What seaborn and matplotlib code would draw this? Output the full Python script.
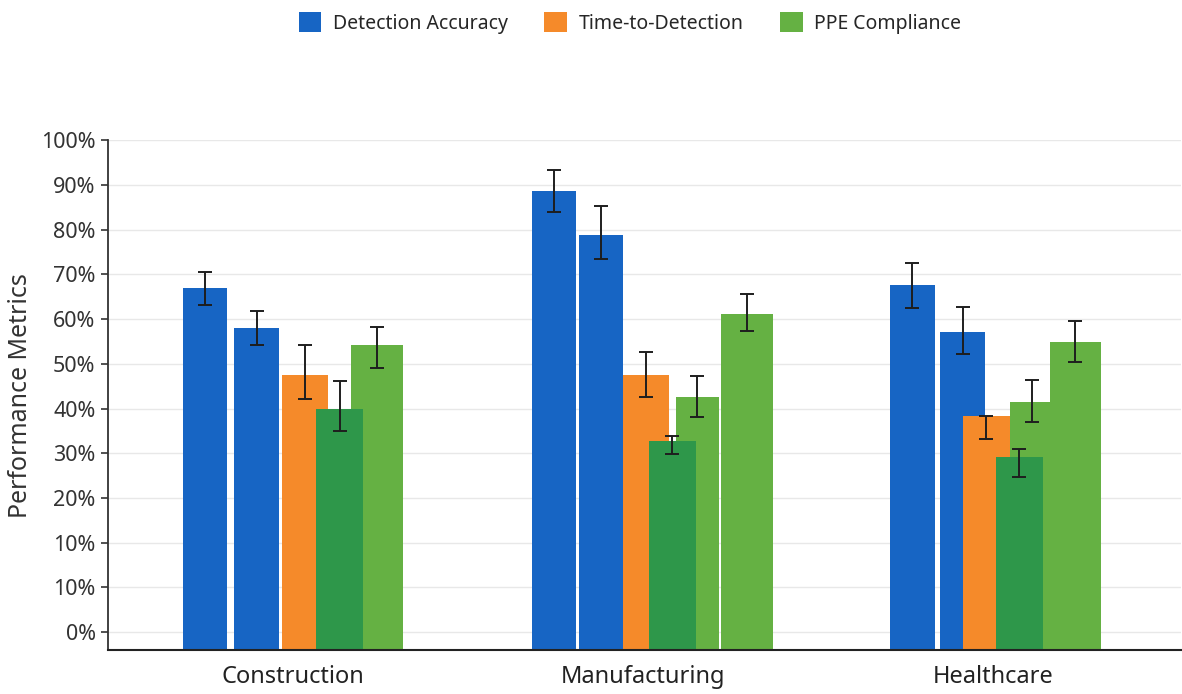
"""Grouped bar chart of safety-monitoring performance metrics by sector."""

import numpy as np
import pandas as pd
import matplotlib.pyplot as plt
from matplotlib.patches import Patch
import seaborn as sns

categories = ['Construction', 'Manufacturing', 'Healthcare']
series_names = ['Detection Accuracy', 'Time-to-Detection', 'PPE Compliance']
tick_labels = ['0%', '10%', '10%', '20%', '30%', '40%', '50%',
               '60%', '70%', '80%', '90%', '100%']

# bar tops and error-bar ends (percent, as read against the tick labels)
accuracy_a = [67.0, 88.7, 67.6]
accuracy_a_lo = [63.2, 84.0, 62.4]
accuracy_a_hi = [70.6, 93.4, 72.5]

accuracy_b = [58.1, 78.9, 57.2]
accuracy_b_lo = [54.1, 73.4, 52.3]
accuracy_b_hi = [61.7, 85.3, 62.6]

time_detect = [47.4, 47.4, 38.4]
time_detect_lo = [42.2, 42.6, 33.2]
time_detect_hi = [54.2, 52.6, 38.4]

ppe_dark = [39.9, 32.7, 29.1]
ppe_dark_lo = [34.9, 29.8, 24.6]
ppe_dark_hi = [46.1, 33.9, 30.9]

ppe_mid = [np.nan, 42.5, 41.5]
ppe_mid_lo = [np.nan, 38.1, 37.0]
ppe_mid_hi = [np.nan, 47.2, 46.3]

ppe_tall = [54.3, 61.1, 54.9]
ppe_tall_lo = [49.0, 57.3, 50.4]
ppe_tall_hi = [58.2, 65.7, 59.6]

BLUE, ORANGE, DARK_GREEN, LIGHT_GREEN = '#1765c4', '#f58a2a', '#2e974a', '#65b143'


def to_axis(v):
    """Map a labelled percent onto the axis (the 10% label appears twice)."""
    return np.asarray(v, dtype=float) / 10 + 1.4


# layout: slot -> (values, lo, hi, offsets per group, width, colour), in drawing order
slots = {
    'acc_a': (accuracy_a, accuracy_a_lo, accuracy_a_hi, [-0.251, -0.255, -0.231], 0.127, BLUE),
    'acc_b': (accuracy_b, accuracy_b_lo, accuracy_b_hi, [-0.103, -0.12, -0.087], 0.128, BLUE),
    'ppe_tall': (ppe_tall, ppe_tall_lo, ppe_tall_hi, [0.240, 0.297, 0.235], 0.147, LIGHT_GREEN),
    'ppe_mid': (ppe_mid, ppe_mid_lo, ppe_mid_hi, [0.0, 0.155, 0.110], 0.122, LIGHT_GREEN),
    'time': (time_detect, time_detect_lo, time_detect_hi, [0.034, 0.009, -0.019], 0.132, ORANGE),
    'ppe_dark': (ppe_dark, ppe_dark_lo, ppe_dark_hi, [0.134, 0.083, 0.074], 0.134, DARK_GREEN),
}

rows = []
for slot, (vals, lo, hi, offs, w, c) in slots.items():
    for i, _ in enumerate(categories):
        if np.isnan(vals[i]):
            continue
        rows.append({'slot': slot, 'x': i + offs[i], 'height': float(to_axis(vals[i])),
                     'lo': float(to_axis(lo[i])), 'hi': float(to_axis(hi[i]))})
df = pd.DataFrame(rows)

sns.set_style('white')
plt.rcParams['font.family'] = ['Noto Sans', 'DejaVu Sans']

fig, ax = plt.subplots(figsize=(11.82, 6.94), dpi=100)
fig.subplots_adjust(left=0.0914, right=0.999, top=0.798, bottom=0.0634)

ax.grid(axis='y', color='#e8e8e8', linewidth=1)
ax.set_axisbelow(True)

for slot, (_, _, _, _, w, c) in slots.items():
    sub = df[df['slot'] == slot]
    # width is relative to the spacing of the x positions in each call
    spacing = np.diff(np.sort(sub['x'].to_numpy())).min()
    sns.barplot(data=sub, x='x', y='height', native_scale=True, orient='x',
                width=w / spacing, color=c, saturation=1, errorbar=None,
                linewidth=0, ax=ax)

ax.errorbar(df['x'], df['height'],
            yerr=[df['height'] - df['lo'], df['hi'] - df['height']],
            fmt='none', ecolor='#1e1e1e', elinewidth=1.4, capsize=5,
            capthick=1.4, zorder=5)

ax.set_ylim(0, 11.4)
ax.set_yticks(np.arange(len(tick_labels)) + 0.4)
ax.set_yticklabels(tick_labels, fontsize=15.5, color='#333333')
ax.set_xlim(-0.528, 2.536)
ax.set_xticks(range(len(categories)))
ax.set_xticklabels(categories, fontsize=17, color='#222222')
ax.set_xticks([0.5, 1.5], minor=True)
ax.tick_params(axis='x', which='major', length=0, pad=11)
ax.tick_params(axis='x', which='minor', length=11, width=1.2, color='#333333')
ax.tick_params(axis='y', length=5, width=1.2, color='#333333', pad=4, left=True)

ax.set_xlabel('')
ax.set_ylabel('Performance Metrics', fontsize=18, color='#333333', labelpad=6)

sns.despine(ax=ax)
ax.spines['left'].set_color('#333333')
ax.spines['left'].set_linewidth(1.3)
ax.spines['bottom'].set_color('#222222')
ax.spines['bottom'].set_linewidth(1.5)

handles = [Patch(facecolor=c, edgecolor='none') for c in (BLUE, ORANGE, LIGHT_GREEN)]
fig.legend(handles, series_names, loc='center', bbox_to_anchor=(0.533, 0.967),
           ncol=3, frameon=False, fontsize=14, handlelength=1.15, handleheight=1.15,
           handletextpad=0.6, columnspacing=1.9)

fig.savefig('out.png', dpi=100)
